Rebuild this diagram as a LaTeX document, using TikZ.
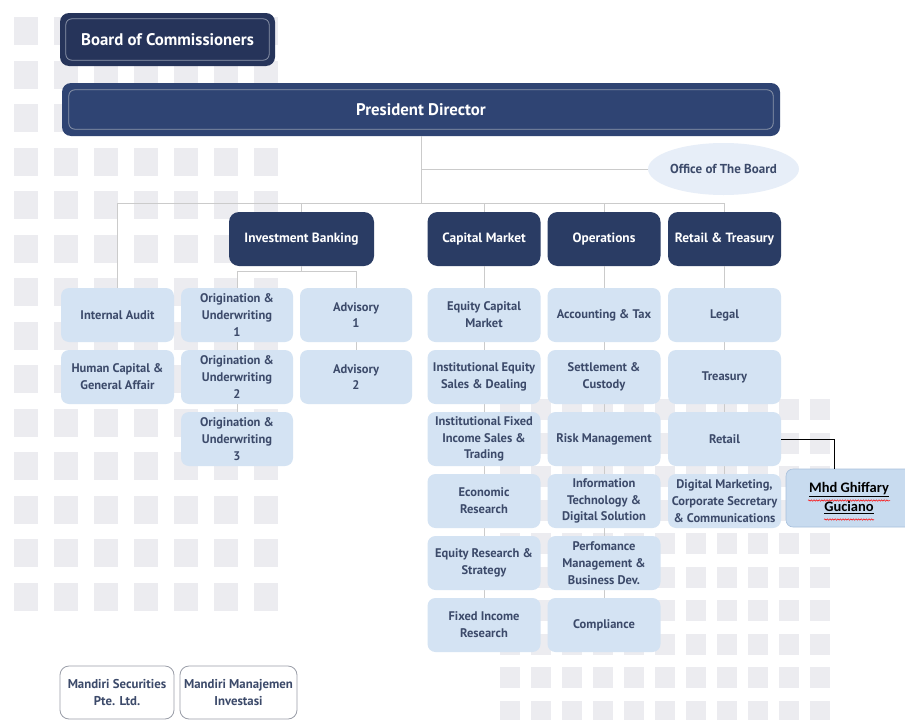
\documentclass[tikz,border=0pt]{standalone}
\usepackage{fontspec}
\setmainfont{PT Sans}
\newfontfamily\calib{Carlito}
\usetikzlibrary{shapes.geometric,decorations.pathmorphing,calc}
\definecolor{boardfill}{HTML}{26345A}
\definecolor{presfill}{HTML}{2F4473}
\definecolor{headfill}{HTML}{2A3C64}
\definecolor{innerln}{HTML}{8E97AB}
\definecolor{lightfill}{HTML}{D4E3F3}
\definecolor{txtdark}{HTML}{3C4A6A}
\definecolor{gridc}{HTML}{ECECF0}
\definecolor{connc}{HTML}{CBCBCB}
\definecolor{officefill}{HTML}{E7EEF8}
\definecolor{mgfill}{HTML}{C8DBEF}
\definecolor{mgborder}{HTML}{A8C0DC}
\definecolor{subborder}{HTML}{9A9EA8}
\tikzset{
  darkbox/.style={draw=none, rounded corners=9pt, inner sep=0pt, align=center,
    text=white, font=\bfseries\fontsize{16.8}{19}\selectfont},
  headbox/.style={fill=headfill, rounded corners=10pt, inner sep=0pt, align=center,
    text=white, font=\bfseries\fontsize{13.4}{16}\selectfont,
    minimum width=113pt, minimum height=54pt},
  lbox/.style={fill=lightfill, rounded corners=8pt, inner sep=0pt, align=center,
    text=txtdark, font=\bfseries\fontsize{12.5}{16.8}\selectfont,
    minimum width=113pt, minimum height=54pt},
  subbox/.style={fill=white, draw=subborder, line width=0.8pt, rounded corners=9pt,
    inner sep=0pt, align=center, text=txtdark,
    font=\bfseries\fontsize{12.8}{16.5}\selectfont, minimum height=53pt},
  conn/.style={draw=connc, line width=0.8pt},
  innerline/.style={draw=innerln, line width=0.8pt, rounded corners=6pt},
  wavy/.style={draw=red, line width=0.5pt, decorate,
    decoration={snake, amplitude=0.7pt, segment length=2.6pt}}
}
\begin{document}
\begin{tikzpicture}[x=1pt,y=-1pt]
\clip (0,0) rectangle (905,720);
\fill[white] (0,0) rectangle (905,720);
% background squares
\foreach \i in {0,...,6}{\foreach \j in {0,...,13}{
  \fill[gridc] (14+40*\i,17+43.5*\j) rectangle ++(24,28);}}
\foreach \i in {0,...,10}{\foreach \j in {0,...,9}{
  \fill[gridc] (500+31*\i,399+33.5*\j) rectangle ++(19.5,21);}}

% top boxes
\node[darkbox, fill=boardfill, minimum width=215pt, minimum height=53pt] (bc) at (167.5,39.5) {Board of Commissioners};
\draw[innerline] ([xshift=6pt,yshift=-6pt]bc.north west) rectangle ([xshift=-6pt,yshift=6pt]bc.south east);
\node[darkbox, fill=presfill, minimum width=718pt, minimum height=53pt] (pd) at (421,109.5) {President Director};
\draw[innerline] ([xshift=7pt,yshift=-7pt]pd.north west) rectangle ([xshift=-7pt,yshift=7pt]pd.south east);
\node[ellipse, fill=officefill, minimum width=113pt, minimum height=52pt, inner sep=0pt,
  text=txtdark, font=\bfseries\fontsize{13}{15}\selectfont] (ob) at (723.5,169) {Office of The Board};

% headers
\node[headbox, minimum width=145pt] (ib) at (301.5,239) {Investment Banking};
\node[headbox] (cm) at (484,239) {Capital Market};
\node[headbox] (op) at (604,239) {Operations};
\node[headbox] (rt) at (724.5,239) {Retail \& Treasury};

% light boxes positions (nodes drawn after connectors)
\coordinate (bus) at (0,203);
\coordinate (ibbus) at (0,271);
\coordinate (iaN) at (117.5,288);
\coordinate (o1N) at (237,288);
\coordinate (a1N) at (356,288);

% connectors from the president
\draw[conn] (pd.south) -- (pd.south |- bus);
\draw[conn] (pd.south |- ob.west) -- (ob.west);
\draw[conn] (iaN) |- (bus -| rt.north) -- (rt.north);
\draw[conn] (ib.north |- bus) -- (ib.north);
\draw[conn] (cm.north |- bus) -- (cm.north);
\draw[conn] (op.north |- bus) -- (op.north);
\draw[conn] (ib.south) -- (ib.south |- ibbus);
\draw[conn] (o1N) |- (a1N |- ibbus) -- (a1N);
\draw[conn] (o1N) -- ++(0,170);
\draw[conn] (a1N) -- ++(0,110);
\draw[conn] (cm.south) -- ++(0,380);
\draw[conn] (op.south) -- ++(0,380);
\draw[conn] (rt.south) -- ++(0,250);

% light boxes
\node[lbox] (ia) at (117.5,315) {Internal Audit};
\node[lbox] (hc) at (117.5,377) {Human Capital \&\\General Affair};
\node[lbox, minimum width=112pt] (o1) at (237,315) {Origination \&\\Underwriting\\1};
\node[lbox, minimum width=112pt] (o2) at (237,377) {Origination \&\\Underwriting\\2};
\node[lbox, minimum width=112pt] (o3) at (237,439) {Origination \&\\Underwriting\\3};
\node[lbox, minimum width=112pt] (a1) at (356,315) {Advisory\\1};
\node[lbox, minimum width=112pt] (a2) at (356,377) {Advisory\\2};

\node[lbox] (d1) at (484,315) {Equity Capital\\Market};
\node[lbox] (d2) at (484,377) {Institutional Equity\\Sales \& Dealing};
\node[lbox] (d3) at (484,439) {Institutional Fixed\\Income Sales \&\\Trading};
\node[lbox] (d4) at (484,501) {Economic\\Research};
\node[lbox] (d5) at (484,563) {Equity Research \&\\Strategy};
\node[lbox] (d6) at (484,625) {Fixed Income\\Research};

\node[lbox] (e1) at (604,315) {Accounting \& Tax};
\node[lbox] (e2) at (604,377) {Settlement \&\\Custody};
\node[lbox] (e3) at (604,439) {Risk Management};
\node[lbox] (e4) at (604,501) {Information\\Technology \&\\Digital Solution};
\node[lbox] (e5) at (604,563) {Perfomance\\Management \&\\Business Dev.};
\node[lbox] (e6) at (604,625) {Compliance};

\node[lbox] (f1) at (724.5,315) {Legal};
\node[lbox] (f2) at (724.5,377) {Treasury};
\node[lbox] (f3) at (724.5,439) {Retail};
\node[lbox] (f4) at (724.5,501) {Digital Marketing,\\Corporate Secretary\\\& Communications};

\node[fill=mgfill, draw=mgborder, line width=0.6pt, rounded corners=7pt, inner sep=0pt,
  minimum width=126pt, minimum height=58pt, align=center, text=black,
  font=\calib\bfseries\fontsize{14.5}{19}\selectfont] (mg) at (849,498)
  {\underline{Mhd Ghiffary}\\\underline{Guciano}};
\draw[wavy] ($(mg.center)+(-41,2.5)$) -- ++(82,0);
\draw[wavy] ($(mg.center)+(-25,21.5)$) -- ++(50,0);

\node[subbox, minimum width=114pt] (ms) at (117,692.5) {Mandiri Securities\\Pte. Ltd.};
\node[subbox, minimum width=117pt] (mm) at (238.5,692.5) {Mandiri Manajemen\\Investasi};

% Retail to Mhd Ghiffary Guciano
\coordinate (mgtop) at ($(mg.north west)+(49,0)$);
\draw[black, line width=1pt] (f3.east) -| (mgtop);
\end{tikzpicture}
\end{document}
